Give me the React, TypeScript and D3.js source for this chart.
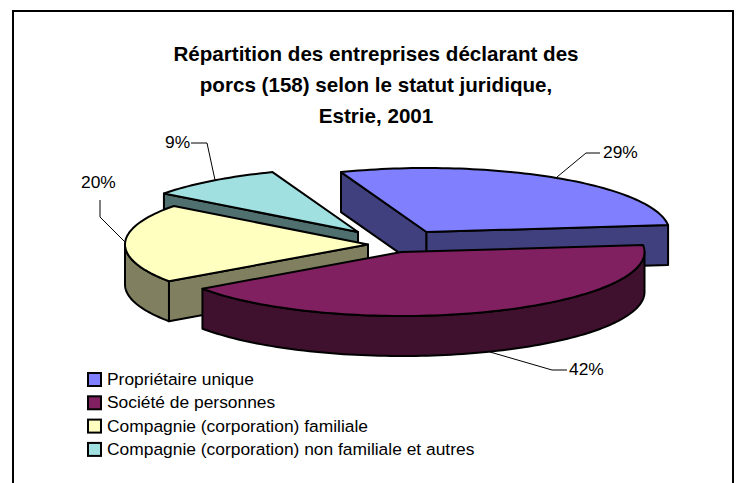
import React from "react";
import * as d3 from "d3";

const categories = ["Propriétaire unique", "Société de personnes", "Compagnie (corporation) familiale", "Compagnie (corporation) non familiale et autres"];
const values = [29, 42, 20, 9];
const labels = ["29%", "42%", "20%", "9%"];
const topColors = ["#8080ff", "#802060", "#ffffc0", "#a0e0e0"];
const sideColors = ["#40407f", "#40102f", "#808060", "#507070"];
const titleLines = ["Répartition des entreprises déclarant des", "porcs (158) selon le statut juridique,", "Estrie, 2001"];

const rx = 243, ry = 64, depth = 40;
const apexes: [number, number][] = [[426.5, 232], [401.5, 252], [368, 244.5], [358, 232]];
const drawOrder = [3, 0, 2, 1];
const start = (-20.6 * Math.PI) / 180;
const leaders: [number, number][][] = [
  [[557, 177], [586, 153], [600, 153]],
  [[490, 352], [552, 370], [567, 370]],
  [[125, 242], [100, 217], [100, 200]],
  [[215, 180], [207, 143], [191, 143]],
];
const labelPos: [number, number][] = [[603, 152], [569, 369], [81, 182], [165, 142]];

const arcs = d3.pie<number>().sort(null).startAngle(start).endAngle(start + 2 * Math.PI)(values);
const pt = (i: number, t: number): [number, number] => [apexes[i][0] + rx * Math.sin(t), apexes[i][1] - ry * Math.cos(t)];
const line = d3.line();
const down = (p: [number, number]): [number, number] => [p[0], p[1] + depth];

function samples(a: number, b: number, i: number) {
  const n = Math.max(2, Math.ceil((b - a) * 40));
  return d3.range(n + 1).map((k) => pt(i, a + ((b - a) * k) / n));
}

function Slice({ i }: { i: number }) {
  const { startAngle: a, endAngle: b } = arcs[i];
  const apex = apexes[i];
  const walls: string[] = [];
  if (Math.sin(a) < 0) walls.push(line([apex, pt(i, a), down(pt(i, a)), down(apex)])! + "Z");
  if (Math.sin(b) > 0) walls.push(line([apex, pt(i, b), down(pt(i, b)), down(apex)])! + "Z");
  const lo = Math.max(a, Math.PI / 2), hi = Math.min(b, (3 * Math.PI) / 2);
  let band: string | null = null;
  if (hi > lo) {
    const s = samples(lo, hi, i);
    band = line([...s, ...s.map(down).reverse()])! + "Z";
  }
  return (
    <g stroke="#000" strokeWidth={2} strokeLinejoin="round">
      {walls.map((d, k) => <path key={k} d={d} fill={sideColors[i]} />)}
      {band && <path d={band} fill={sideColors[i]} />}
      <path d={line([apex, ...samples(a, b, i)])! + "Z"} fill={topColors[i]} />
    </g>
  );
}

const font = "'Liberation Sans', Arial, sans-serif";

export default function App() {
  return (
    <svg width={736} height={483} style={{ position: "fixed", left: 0, top: 0 }}>
      <rect width={736} height={483} fill="#fff" />
      <path d="M13,483V11H733V483" fill="none" stroke="#000" strokeWidth={2} />
      {titleLines.map((t, i) => (
        <text key={t} x={376} y={60.5 + i * 31} textAnchor="middle" fontFamily={font} fontWeight="bold" fontSize={20.6} fill="#000">{t}</text>
      ))}
      {leaders.map((l, i) => <path key={i} d={line(l)!} fill="none" stroke="#000" strokeWidth={1} />)}
      {drawOrder.map((i) => <Slice key={i} i={i} />)}
      {labels.map((t, i) => (
        <text key={t} x={labelPos[i][0]} y={labelPos[i][1]} dy="0.35em" fontFamily={font} fontSize={17.4} fill="#000">{t}</text>
      ))}
      {categories.map((c, i) => (
        <g key={c}>
          <rect x={88} y={373 + i * 23.3} width={13} height={13} fill={topColors[i]} stroke="#000" strokeWidth={2} />
          <text x={107} y={379 + i * 23.3} dy="0.35em" fontFamily={font} fontSize={17.4} fill="#000">{c}</text>
        </g>
      ))}
    </svg>
  );
}
